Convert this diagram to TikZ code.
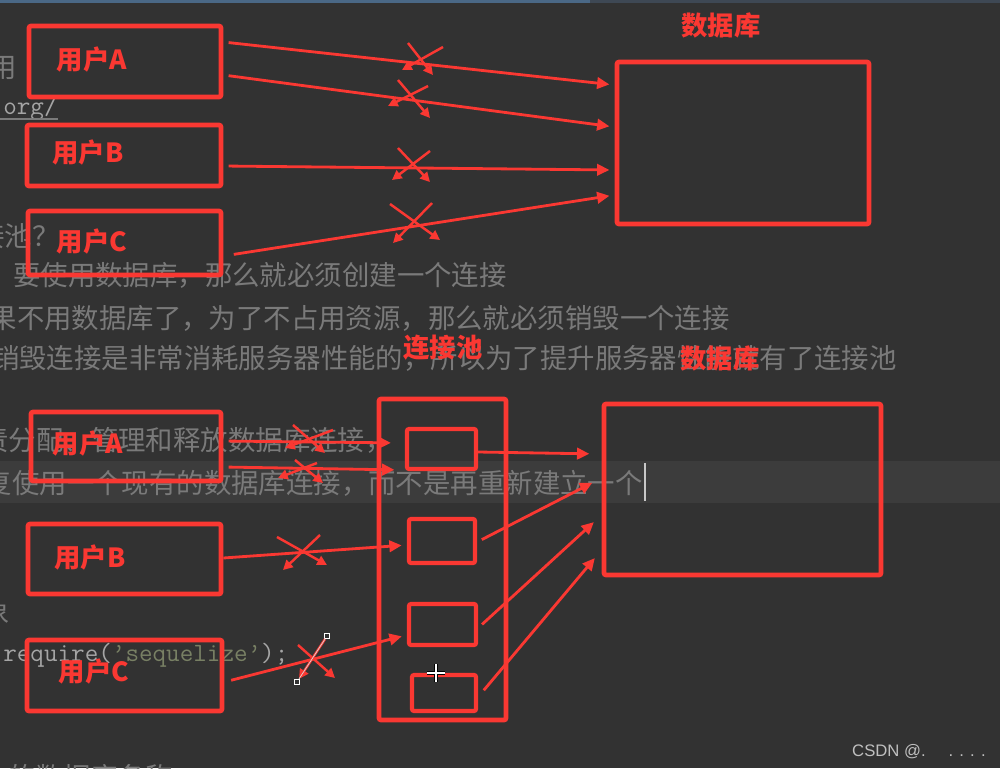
\documentclass[tikz,border=0pt]{standalone}
\usepackage{fontspec}
\newfontfamily\cjk{Noto Sans CJK SC}
\newfontfamily\wmfont{Liberation Sans}
\usetikzlibrary{arrows.meta,fit}

\definecolor{annot}{RGB}{250,56,50}
\definecolor{editorbg}{RGB}{50,50,50}
\definecolor{curline}{RGB}{60,60,60}
\definecolor{txtgray}{RGB}{122,122,122}
\definecolor{codegray}{RGB}{165,165,165}
\definecolor{strlit}{RGB}{120,128,100}
\definecolor{tabblue}{RGB}{74,104,134}
\definecolor{tabgray}{RGB}{62,72,84}

\begin{document}
\begin{tikzpicture}[x=0.02cm, y=-0.02cm,
    box/.style={draw=annot, line width=2.7pt, rounded corners=1.2pt, inner sep=0pt},
    slot/.style={box, line width=2.4pt},
    tag/.style={text=annot, font=\cjk\bfseries\fontsize{15}{18}\selectfont, inner sep=0pt},
    prose/.style={text=txtgray, font=\cjk\fontsize{15.6}{18}\selectfont, inner sep=0pt, anchor=east},
    code/.style={text=codegray, font=\ttfamily\fontsize{15}{18}\selectfont, inner sep=0pt, anchor=west},
    link/.style={draw=annot, line width=1.6pt, shorten <=3pt, shorten >=3pt, -{Triangle[length=7pt,width=6.5pt]}},
    nope/.style={draw=annot, line width=1.4pt, -{Triangle[length=5.5pt,width=5.5pt]}},
    handle/.style={draw=white, fill=editorbg, line width=0.5pt, inner sep=0pt, minimum size=3pt}]

    \useasboundingbox (0,0) rectangle (1000,768);
    \clip (0,0) rectangle (1000,768);

    % editor
    \fill[editorbg] (0,0) rectangle (1000,768);
    \fill[curline] (0,461) rectangle (1000,503);
    \fill[tabblue] (0,0) rectangle (590,2.5);
    \fill[tabgray] (590,0) rectangle (1000,2.5);

    \node[prose] (t1) at (17,67) {使用};
    \node[code] (t2) at (3,108) {org/};
    \draw[txtgray, line width=0.6pt] (0,119) -- (t2.east |- 0,119);
    \node[prose] (t3) at (60,236) {什么是连接池？};
    \node[prose] (t4) at (507,275) {要使用数据库，那么就必须创建一个连接};
    \node[prose] (t5) at (730,318) {如果不用数据库了，为了不占用资源，那么就必须销毁一个连接};
    \node[prose] (t6) at (897,358) {而创建和销毁连接是非常消耗服务器性能的，所以为了提升服务器性能就有了连接池};
    \node[prose] (t7) at (393,440) {连接池负责分配、管理和释放数据库连接，};
    \node[prose] (t8) at (643,483) {它允许应用程序重复使用一个现有的数据库连接，而不是再重新建立一个};
    \node[prose] (t9) at (10,612) {对象};
    \node[code] (t10) at (3,655) {require(\textcolor{strlit}{’sequelize’});};
    \node[prose, anchor=west] (t11) at (8,777) {的数据库名称};
    \draw[white!78!black, line width=0.8pt] (645,463) -- (645,501);
    \node[text=white!75!black, font=\wmfont\fontsize{9.5}{11}\selectfont, anchor=east, inner sep=0pt] (wm) at (986,752) {CSDN @.\hspace{13pt}. . . .};

    % without pool
    \node[box, fit={(29,26) (221,97)}] (ua1) {};
    \node[box, fit={(27,125) (221,186)}] (ub1) {};
    \node[box, fit={(28,211) (221,275)}] (uc1) {};
    \node[box, fit={(617,62) (869,224)}] (db1) {};
    \node[tag] (la1) at (92,60) {用户A};
    \node[tag] (lb1) at (88,153) {用户B};
    \node[tag] (lc1) at (92,242) {用户C};
    \node[tag] (ld1) at (721,25) {数据库};

    \draw[link] (ua1.east |- 0,42) -- (db1.west |- 0,85);
    \draw[link] (ua1.east |- 0,75) -- (db1.west |- 0,127);
    \draw[link] (ub1.east |- 0,166) -- (db1.west |- 0,170);
    \draw[link, shorten <=6pt] (uc1.east |- 0,256) -- (db1.west |- 0,195);

    \draw[nope] (443,47) -- (402,70);  \draw[nope] (408,43) -- (433,75);
    \draw[nope] (428,86) -- (388,106); \draw[nope] (398,80) -- (430,118);
    \draw[nope] (430,151) -- (392,180); \draw[nope] (398,148) -- (430,182);
    \draw[nope] (432,203) -- (393,243); \draw[nope] (390,204) -- (440,240);

    % with pool
    \node[box, fit={(31,412) (221,481)}] (ua2) {};
    \node[box, fit={(28,524) (221,594)}] (ub2) {};
    \node[box, fit={(27,640) (222,711)}] (uc2) {};
    \node[box, fit={(379,399) (506,720)}] (pool) {};
    \node[slot, fit={(407,429) (476,469)}] (conn1) {};
    \node[slot, fit={(409,519) (475,563)}] (conn2) {};
    \node[slot, fit={(409,604) (476,645)}] (conn3) {};
    \node[slot, fit={(412,675) (476,711)}] (conn4) {};
    \node[box, fit={(604,404) (881,575)}] (db2) {};
    \node[tag] (la2) at (88,444) {用户A};
    \node[tag] (lb2) at (90,558) {用户B};
    \node[tag] (lc2) at (94,672) {用户C};
    \node[tag] (lp) at (443,348) {连接池};
    \node[tag] (ld2) at (720,358) {数据库};

    \draw[link, shorten >=8pt] (ua2.east |- 0,441) -- (conn1.west |- 0,443);
    \draw[link, shorten >=6pt] (ua2.east |- 0,467) -- (conn1.west |- 0,470);
    \draw[link, shorten <=0pt] (ub2.east |- 0,558) -- (conn2.west |- 0,545);
    \draw[link, shorten <=4pt] (uc2.east |- 0,682) -- (conn3.west |- 0,635);
    \draw[link, shorten <=0pt, shorten >=7pt] (conn1.east |- 0,452) -- (db2.west |- 0,454);
    \draw[link, shorten >=6pt] (conn2.east |- 0,542) -- (db2.west |- 0,478);
    \draw[link, shorten >=6pt] (conn3.east |- 0,628) -- (db2.west |- 0,515);
    \draw[link, shorten <=5pt, shorten >=6pt] (conn4.east |- 0,697) -- (db2.west |- 0,550);

    \draw[nope] (333,430) -- (285,448); \draw[nope] (293,425) -- (325,453);
    \draw[nope] (317,463) -- (278,478); \draw[nope] (295,460) -- (323,483);
    \draw[nope] (320,535) -- (283,570); \draw[nope] (277,537) -- (327,565);
    \draw[nope] (298,645) -- (335,678);
    \node[handle] (h1) at (327,636) {};
    \node[handle] (h2) at (297,682) {};
    \draw[nope] (h1) -- (h2);
    \draw[white!70!gray, line width=0.4pt] (h1) -- (h2);

    % mouse pointer
    \draw[black, line width=2pt] (427,673) -- (445,673) (436,664) -- (436,682);
    \draw[white, line width=0.8pt] (427,673) -- (445,673) (436,664) -- (436,682);
\end{tikzpicture}
\end{document}
